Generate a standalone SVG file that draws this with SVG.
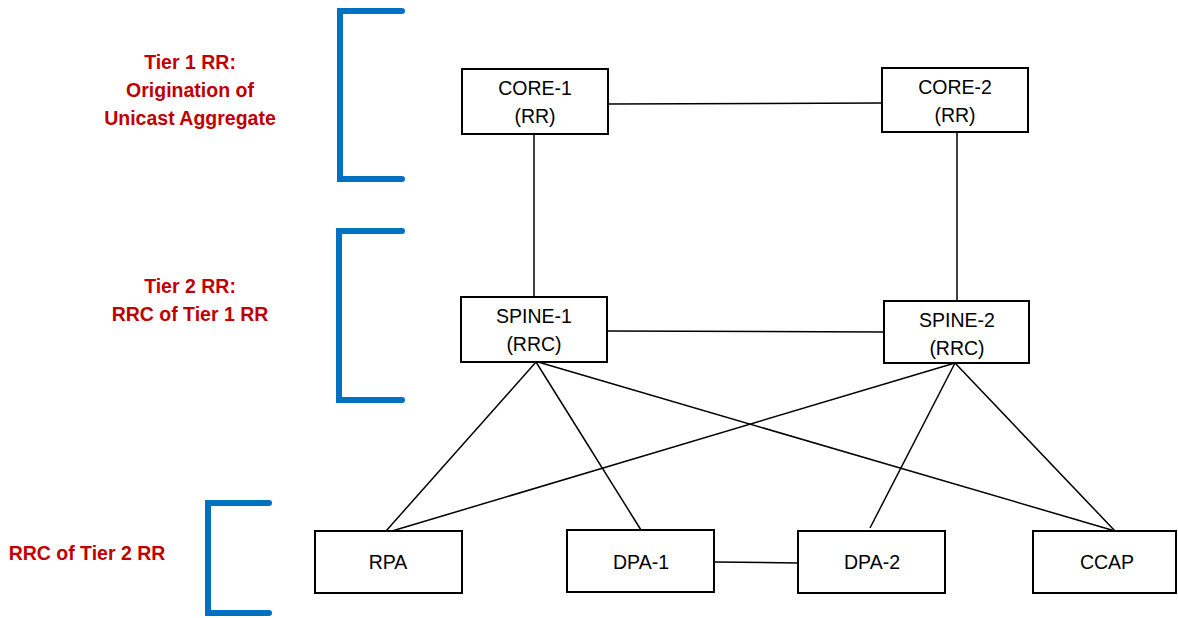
<svg xmlns="http://www.w3.org/2000/svg" width="1178" height="618" viewBox="0 0 1178 618">
  <style>
    .box { fill: #ffffff; stroke: #000000; stroke-width: 2; }
    .lbl { font-family: "Liberation Sans", Arial, sans-serif; font-size: 19.5px; fill: #000000; text-anchor: middle; }
    .tier { font-family: "Liberation Sans", Arial, sans-serif; font-weight: bold; font-size: 19.5px; fill: #C00000; text-anchor: middle; }
    .bracket { fill: none; stroke: #0070C0; stroke-width: 6; stroke-linecap: round; stroke-linejoin: miter; }
    .link { stroke: #000000; stroke-width: 1.5; fill: none; }
  </style>

  <!-- tier brackets and captions -->
  <g id="tiers">
    <path class="bracket" d="M402,11 H340 V179 H402"/>
    <path class="bracket" d="M402,231 H339 V400 H402"/>
    <path class="bracket" d="M269,503 H208 V613 H269"/>
    <text class="tier" x="190" y="69">Tier 1 RR:</text>
    <text class="tier" x="190" y="97">Origination of</text>
    <text class="tier" x="190" y="125">Unicast Aggregate</text>
    <text class="tier" x="190" y="293">Tier 2 RR:</text>
    <text class="tier" x="190" y="321">RRC of Tier 1 RR</text>
    <text class="tier" x="87" y="560">RRC of Tier 2 RR</text>
  </g>

  <!-- connectors -->
  <g id="connectors">
    <line class="link" x1="608" y1="104" x2="882" y2="103"/>
    <line class="link" x1="534" y1="134" x2="534" y2="297"/>
    <line class="link" x1="957" y1="132" x2="957" y2="301"/>
    <line class="link" x1="607" y1="331" x2="884" y2="332"/>
    <line class="link" x1="536" y1="362" x2="386" y2="531"/>
    <line class="link" x1="536" y1="362" x2="641" y2="530"/>
    <line class="link" x1="538" y1="362" x2="1115" y2="531"/>
    <line class="link" x1="955" y1="363" x2="392" y2="531"/>
    <line class="link" x1="955" y1="363" x2="870" y2="528"/>
    <line class="link" x1="955" y1="363" x2="1115" y2="531"/>
    <line class="link" x1="714" y1="562" x2="798" y2="563"/>
  </g>

  <g id="core-1">
    <rect class="box" x="462" y="69" width="146" height="65"/>
    <text class="lbl" x="535" y="95">CORE-1</text>
    <text class="lbl" x="535" y="123">(RR)</text>
  </g>
  <g id="core-2">
    <rect class="box" x="882" y="68" width="146" height="64"/>
    <text class="lbl" x="955" y="94">CORE-2</text>
    <text class="lbl" x="955" y="122">(RR)</text>
  </g>
  <g id="spine-1">
    <rect class="box" x="461" y="297" width="146" height="65"/>
    <text class="lbl" x="534" y="323">SPINE-1</text>
    <text class="lbl" x="534" y="351">(RRC)</text>
  </g>
  <g id="spine-2">
    <rect class="box" x="884" y="301" width="145" height="62"/>
    <text class="lbl" x="957" y="327">SPINE-2</text>
    <text class="lbl" x="957" y="355">(RRC)</text>
  </g>
  <g id="rpa">
    <rect class="box" x="315" y="531" width="147" height="62"/>
    <text class="lbl" x="388" y="569">RPA</text>
  </g>
  <g id="dpa-1">
    <rect class="box" x="567" y="530" width="147" height="62"/>
    <text class="lbl" x="641" y="569">DPA-1</text>
  </g>
  <g id="dpa-2">
    <rect class="box" x="798" y="531" width="147" height="62"/>
    <text class="lbl" x="872" y="569">DPA-2</text>
  </g>
  <g id="ccap">
    <rect class="box" x="1033" y="531" width="143" height="62"/>
    <text class="lbl" x="1107" y="569">CCAP</text>
  </g>
</svg>
